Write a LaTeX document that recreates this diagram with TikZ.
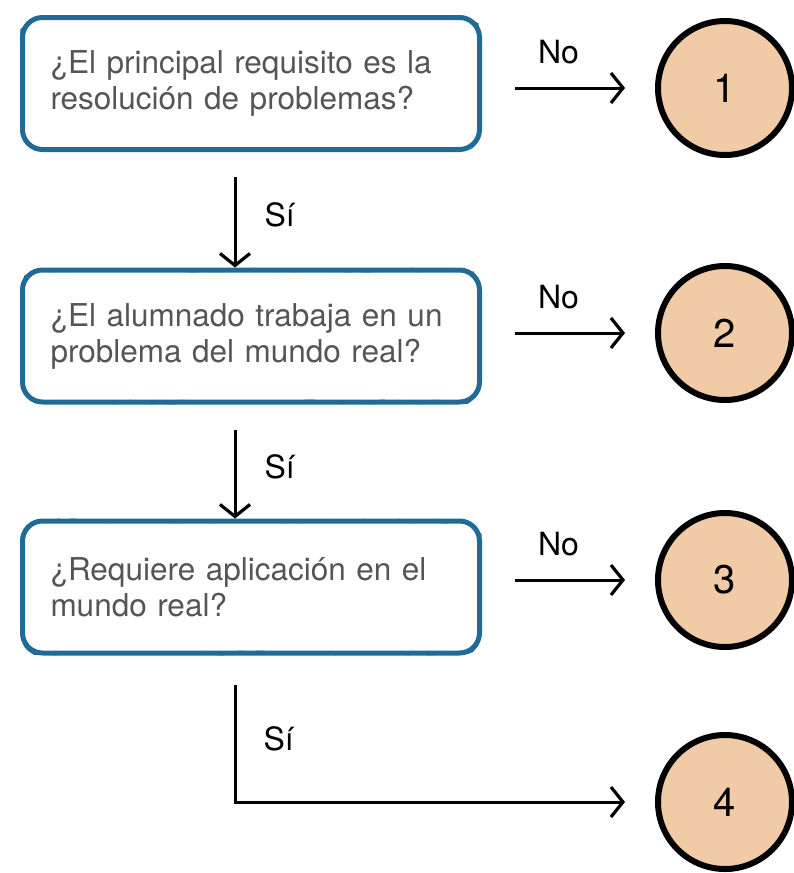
\documentclass[tikz,border=0pt]{standalone}
\usepackage{fontspec}
\setmainfont{TeX Gyre Heros}
\usetikzlibrary{arrows.meta,decorations.pathmorphing}

\definecolor{boxblue}{HTML}{1F6B96}
\definecolor{peach}{HTML}{F0CBA6}
\definecolor{qgray}{HTML}{555555}

\tikzset{
  rough/.style={postaction={draw=#1, sharp corners, line width=1pt, decorate,
      decoration={random steps, segment length=6pt, amplitude=2pt}}},
  question/.style={draw=boxblue, line width=5pt, rounded corners=20pt,
      minimum width=457pt, minimum height=132pt, text width=401pt,
      inner xsep=28pt, align=left, text=qgray,
      font=\fontsize{31.5}{36}\selectfont, rough=boxblue},
  result/.style={circle, draw=black, fill=peach, line width=6pt,
      minimum size=134pt, font=\fontsize{40}{44}\selectfont, rough=black},
  flow/.style={line width=3pt, -{Straight Barb[length=12pt,width=30pt,line width=3.2pt]}},
  answer/.style={inner sep=0pt, font=\fontsize{32}{36}\selectfont}
}

\begin{document}
\begin{tikzpicture}[x=1pt, y=-1pt]

    \useasboundingbox (0,0) rectangle (793,873);

    % preguntas
    \node[question] (q1) at (251, 83.5) {¿El principal requisito es la\\resolución de problemas?};
    \node[question] (q2) at (251, 336) {¿El alumnado trabaja en un\\problema del mundo real?};
    \node[question] (q3) at (251, 587) {¿Requiere aplicación en el\\mundo real?};

    % resultados
    \node[result] (r1) at (725, 88) {1};
    \node[result] (r2) at (725, 333) {2};
    \node[result] (r3) at (725, 580) {3};
    \node[result] (r4) at (725, 802) {4};

    % ramas "No"
    \draw[flow, shorten <=33pt, shorten >=30pt] (q1.east |- r1.west) -- node[answer, xshift=-10pt, yshift=36pt]{No} (r1.west);
    \draw[flow, shorten <=33pt, shorten >=30pt] (q2.east |- r2.west) -- node[answer, xshift=-10pt, yshift=36pt]{No} (r2.west);
    \draw[flow, shorten <=33pt, shorten >=30pt] (q3.east |- r3.west) -- node[answer, xshift=-10pt, yshift=36pt]{No} (r3.west);

    % ramas "Sí"
    \draw[flow, shorten <=25pt] ([xshift=-16pt]q1.south) -- node[answer, anchor=west, xshift=28pt, yshift=-5pt]{Sí} ([xshift=-16pt]q2.north);
    \draw[flow, shorten <=25pt] ([xshift=-16pt]q2.south) -- node[answer, anchor=west, xshift=28pt, yshift=-5pt]{Sí} ([xshift=-16pt]q3.north);
    \draw[flow, shorten <=29pt, shorten >=30pt] ([xshift=-16pt]q3.south) |- node[answer, pos=0.25, anchor=west, xshift=27pt, yshift=-10pt]{Sí} (r4.west);

\end{tikzpicture}
\end{document}
